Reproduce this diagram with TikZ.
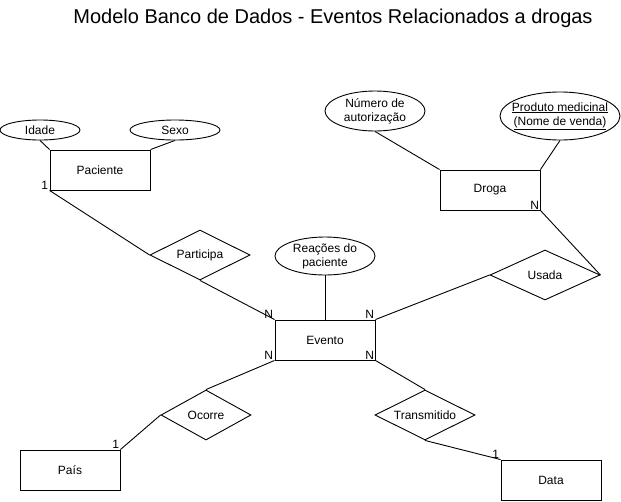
\documentclass[tikz,border=0pt]{standalone}
\usepackage{fontspec}
\setmainfont{Liberation Sans}
\usetikzlibrary{shapes.geometric}

\begin{document}
\begin{tikzpicture}[x=1pt,y=-1pt,line width=0.9pt,
	font=\fontsize{12}{14}\selectfont,
	entity/.style={draw,rectangle,minimum width=100pt,minimum height=40pt,inner sep=0pt},
	attrib/.style={draw,ellipse,inner sep=0pt,align=center},
	relation/.style={draw,diamond,aspect=2,inner sep=0pt},
	card/.style={inner sep=1pt}]
	\useasboundingbox (0,0) rectangle (621,501);
	\node (title) at (333,18) {\fontsize{20}{24}\selectfont Modelo Banco de Dados - Eventos Relacionados a drogas};
	% entidades
	\node[entity] (paciente) at (100,170) {Paciente};
	\node[entity] (evento) at (325,340) {Evento};
	\node[entity] (droga) at (490,190) {Droga};
	\node[entity] (pais) at (70,470) {País};
	\node[entity] (data) at (551,480) {Data};
	% atributos
	\node[attrib,minimum width=80pt,minimum height=20pt] (idade) at (40,130) {Idade};
	\node[attrib,minimum width=90pt,minimum height=20pt] (sexo) at (175,130) {Sexo};
	\node[attrib,minimum width=100pt,minimum height=38pt,inner sep=-4pt] (reacoes) at (325,256) {Reações do\\paciente};
	\node[attrib,minimum width=100pt,minimum height=40pt,inner sep=-4pt] (numero) at (375,111) {Número de\\autorização};
	\node[attrib,minimum width=120pt,minimum height=48pt,inner sep=-8pt] (produto) at (560,116) {\underline{Produto medicinal}\\\underline{(Nome de venda)}};
	% relacionamentos
	\node[relation,minimum width=100pt,minimum height=50pt] (participa) at (200,255) {Participa};
	\node[relation,minimum width=110pt,minimum height=50pt] (usada) at (545,275) {Usada};
	\node[relation,minimum width=90pt,minimum height=50pt] (ocorre) at (206,415) {Ocorre};
	\node[relation,minimum width=100pt,minimum height=50pt] (transmitido) at (425,415) {Transmitido};
	% ligacoes
	\draw (idade.south) -- (paciente.north west);
	\draw (sexo.south) -- (paciente.north east);
	\draw (paciente.south west) -- (participa.west);
	\draw (participa.south) -- (evento.north west);
	\draw (reacoes.south) -- (evento.north);
	\draw (evento.north east) -- (usada.west);
	\draw (usada.east) -- (droga.south east);
	\draw (numero.south) -- (droga.north west);
	\draw (produto.south) -- (droga.north east);
	\draw (evento.south west) -- (ocorre.north);
	\draw (ocorre.west) -- (pais.north east);
	\draw (evento.south east) -- (transmitido.north);
	\draw (transmitido.south) -- (data.north west);
	% cardinalidades
	\node[card,above left] (c1) at (paciente.south west) {1};
	\node[card,above left] (c2) at (evento.north west) {N};
	\node[card,above left] (c3) at (evento.south west) {N};
	\node[card,above left] (c4) at (evento.north east) {N};
	\node[card,above left] (c5) at (evento.south east) {N};
	\node[card,above left] (c6) at (droga.south east) {N};
	\node[card,above left] (c7) at (pais.north east) {1};
	\node[card,above left] (c8) at (data.north west) {1};
\end{tikzpicture}
\end{document}
